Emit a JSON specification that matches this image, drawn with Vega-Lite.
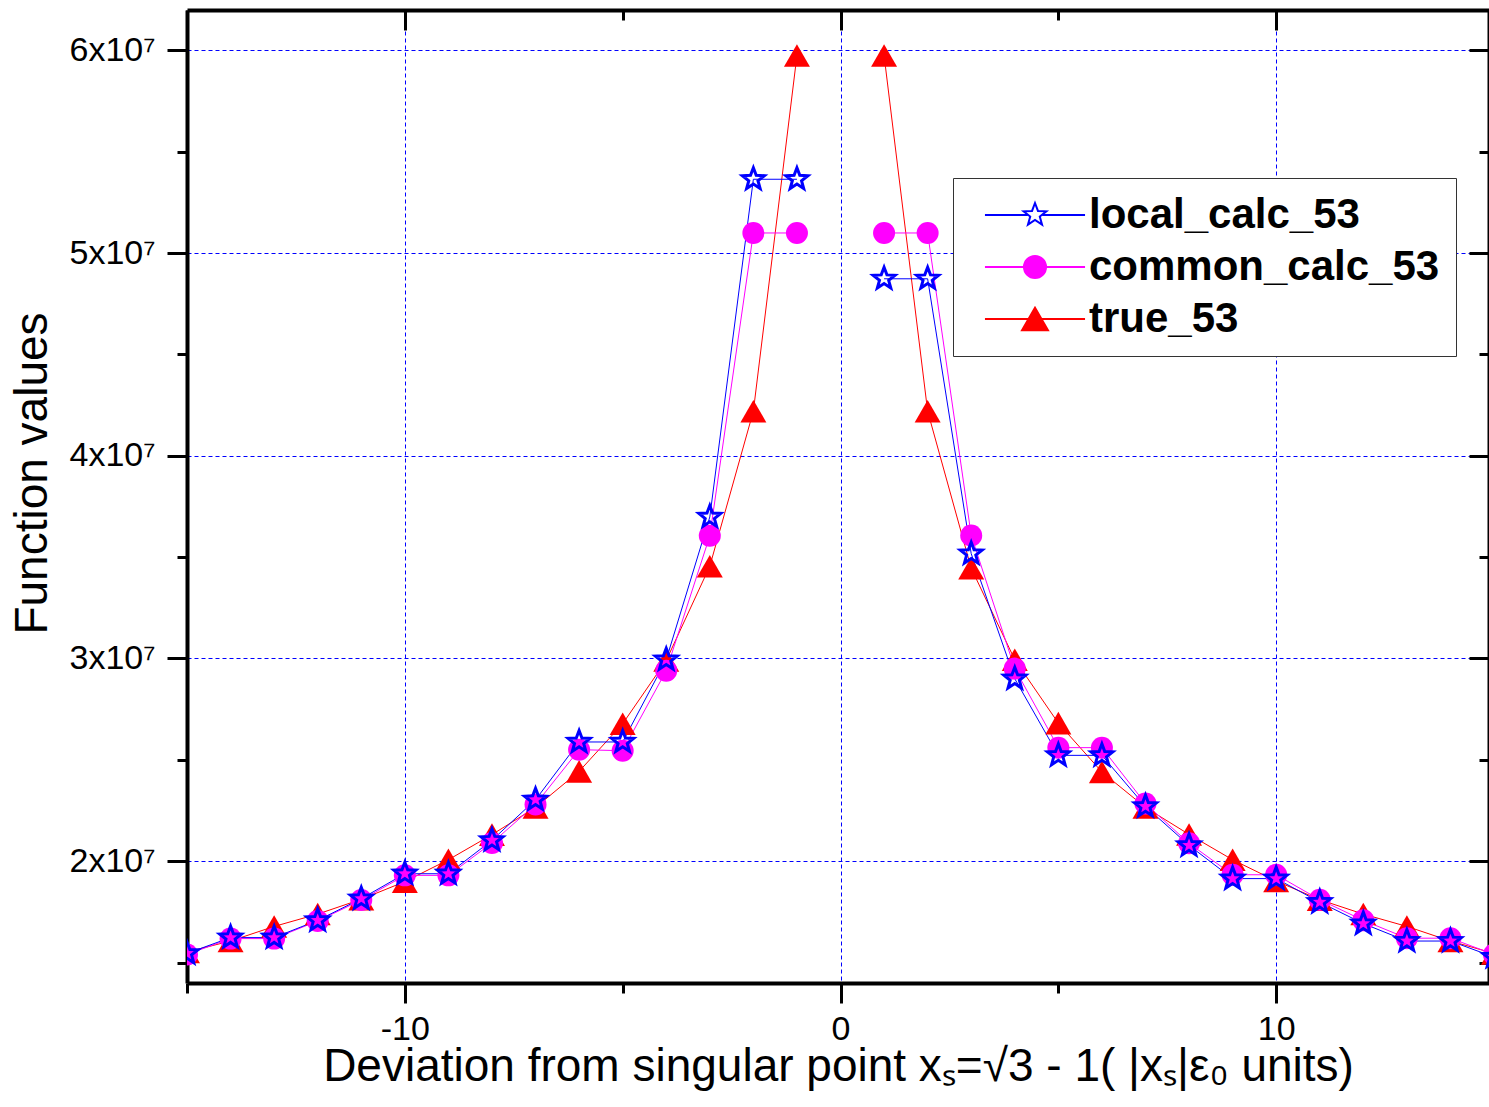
{
  "$schema": "https://vega.github.io/schema/vega-lite/v6.json",
  "width": 1302,
  "height": 973,
  "autosize": "none",
  "padding": {"left": 187, "top": 10, "right": 0, "bottom": 124},
  "background": "white",
  "config": {"view": {"stroke": null}, "font": "Liberation Sans"},
  "data": {"values": [
    {"s":"true_53","b":"L","x":-15,"y":15520000},{"s":"true_53","b":"L","x":-14,"y":16060000},{"s":"true_53","b":"L","x":-13,"y":16780000},{"s":"true_53","b":"L","x":-12,"y":17390000},{"s":"true_53","b":"L","x":-11,"y":18120000},{"s":"true_53","b":"L","x":-10,"y":18990000},{"s":"true_53","b":"L","x":-9,"y":20070000},{"s":"true_53","b":"L","x":-8,"y":21310000},{"s":"true_53","b":"L","x":-7,"y":22650000},{"s":"true_53","b":"L","x":-6,"y":24430000},{"s":"true_53","b":"L","x":-5,"y":26780000},{"s":"true_53","b":"L","x":-4,"y":29900000},{"s":"true_53","b":"L","x":-3,"y":34550000},{"s":"true_53","b":"L","x":-2,"y":42200000},{"s":"true_53","b":"L","x":-1,"y":59750000},
    {"s":"true_53","b":"R","x":1,"y":59750000},{"s":"true_53","b":"R","x":2,"y":42200000},{"s":"true_53","b":"R","x":3,"y":34450000},{"s":"true_53","b":"R","x":4,"y":29940000},{"s":"true_53","b":"R","x":5,"y":26810000},{"s":"true_53","b":"R","x":6,"y":24400000},{"s":"true_53","b":"R","x":7,"y":22650000},{"s":"true_53","b":"R","x":8,"y":21320000},{"s":"true_53","b":"R","x":9,"y":20070000},{"s":"true_53","b":"R","x":10,"y":19020000},{"s":"true_53","b":"R","x":11,"y":18100000},{"s":"true_53","b":"R","x":12,"y":17390000},{"s":"true_53","b":"R","x":13,"y":16780000},{"s":"true_53","b":"R","x":14,"y":16060000},{"s":"true_53","b":"R","x":15,"y":15450000},
    {"s":"common_calc_53","b":"L","x":-15,"y":15400000},{"s":"common_calc_53","b":"L","x":-14,"y":16180000},{"s":"common_calc_53","b":"L","x":-13,"y":16180000},{"s":"common_calc_53","b":"L","x":-12,"y":17050000},{"s":"common_calc_53","b":"L","x":-11,"y":18080000},{"s":"common_calc_53","b":"L","x":-10,"y":19300000},{"s":"common_calc_53","b":"L","x":-9,"y":19300000},{"s":"common_calc_53","b":"L","x":-8,"y":20900000},{"s":"common_calc_53","b":"L","x":-7,"y":22800000},{"s":"common_calc_53","b":"L","x":-6,"y":25500000},{"s":"common_calc_53","b":"L","x":-5,"y":25450000},{"s":"common_calc_53","b":"L","x":-4,"y":29400000},{"s":"common_calc_53","b":"L","x":-3,"y":36050000},{"s":"common_calc_53","b":"L","x":-2,"y":50990000},{"s":"common_calc_53","b":"L","x":-1,"y":50990000},
    {"s":"common_calc_53","b":"R","x":1,"y":50990000},{"s":"common_calc_53","b":"R","x":2,"y":50990000},{"s":"common_calc_53","b":"R","x":3,"y":36070000},{"s":"common_calc_53","b":"R","x":4,"y":29500000},{"s":"common_calc_53","b":"R","x":5,"y":25600000},{"s":"common_calc_53","b":"R","x":6,"y":25600000},{"s":"common_calc_53","b":"R","x":7,"y":22840000},{"s":"common_calc_53","b":"R","x":8,"y":20880000},{"s":"common_calc_53","b":"R","x":9,"y":19330000},{"s":"common_calc_53","b":"R","x":10,"y":19330000},{"s":"common_calc_53","b":"R","x":11,"y":18100000},{"s":"common_calc_53","b":"R","x":12,"y":17080000},{"s":"common_calc_53","b":"R","x":13,"y":16200000},{"s":"common_calc_53","b":"R","x":14,"y":16200000},{"s":"common_calc_53","b":"R","x":15,"y":15400000},
    {"s":"local_calc_53","b":"L","x":-15,"y":15450000},{"s":"local_calc_53","b":"L","x":-14,"y":16230000},{"s":"local_calc_53","b":"L","x":-13,"y":16230000},{"s":"local_calc_53","b":"L","x":-12,"y":17080000},{"s":"local_calc_53","b":"L","x":-11,"y":18150000},{"s":"local_calc_53","b":"L","x":-10,"y":19380000},{"s":"local_calc_53","b":"L","x":-9,"y":19380000},{"s":"local_calc_53","b":"L","x":-8,"y":21030000},{"s":"local_calc_53","b":"L","x":-7,"y":23030000},{"s":"local_calc_53","b":"L","x":-6,"y":25880000},{"s":"local_calc_53","b":"L","x":-5,"y":25880000},{"s":"local_calc_53","b":"L","x":-4,"y":29940000},{"s":"local_calc_53","b":"L","x":-3,"y":36980000},{"s":"local_calc_53","b":"L","x":-2,"y":53640000},{"s":"local_calc_53","b":"L","x":-1,"y":53640000},
    {"s":"local_calc_53","b":"R","x":1,"y":48730000},{"s":"local_calc_53","b":"R","x":2,"y":48730000},{"s":"local_calc_53","b":"R","x":3,"y":35170000},{"s":"local_calc_53","b":"R","x":4,"y":29000000},{"s":"local_calc_53","b":"R","x":5,"y":25220000},{"s":"local_calc_53","b":"R","x":6,"y":25220000},{"s":"local_calc_53","b":"R","x":7,"y":22700000},{"s":"local_calc_53","b":"R","x":8,"y":20780000},{"s":"local_calc_53","b":"R","x":9,"y":19140000},{"s":"local_calc_53","b":"R","x":10,"y":19140000},{"s":"local_calc_53","b":"R","x":11,"y":17980000},{"s":"local_calc_53","b":"R","x":12,"y":16920000},{"s":"local_calc_53","b":"R","x":13,"y":16060000},{"s":"local_calc_53","b":"R","x":14,"y":16060000},{"s":"local_calc_53","b":"R","x":15,"y":15270000}
  ]},
  "layer": [
    {
      "mark": {"type": "line", "strokeWidth": 1, "clip": true},
      "encoding": {
        "x": {"field": "x", "type": "quantitative",
          "scale": {"domain": [-15, 14.885], "nice": false, "zero": false},
          "axis": {
            "orient": "bottom", "values": [-15, -10, -5, 0, 5, 10],
            "labelExpr": "datum.value % 10 === 0 ? '' + datum.value : ''",
            "tickSize": {"condition": {"test": "datum.value % 10 === 0", "value": 20}, "value": 10},
            "tickWidth": 3, "tickColor": "black",
            "domainColor": "black", "domainWidth": 4,
            "grid": true, "gridColor": "#0000ff", "gridDash": [4, 3], "gridWidth": 1,
            "gridOpacity": {"condition": {"test": "datum.value % 10 === 0", "value": 1}, "value": 0},
            "labelFont": "Liberation Sans", "labelFontSize": 34, "labelColor": "black", "labelPadding": 9,
            "labelFlush": false, "labelOverlap": false,
            "title": "Deviation from singular point xₛ=√3 - 1( |xₛ|ε₀ units)",
            "titleFont": "Liberation Sans", "titleFontSize": 46, "titleFontWeight": "normal", "titleColor": "black", "titlePadding": -2
          }},
        "y": {"field": "y", "type": "quantitative",
          "scale": {"domain": [13990000, 61990000], "nice": false, "zero": false},
          "axis": {
            "orient": "left",
            "values": [15000000, 20000000, 25000000, 30000000, 35000000, 40000000, 45000000, 50000000, 55000000, 60000000],
            "labelExpr": "abs(datum.value/1e7 - round(datum.value/1e7)) < 0.001 ? round(datum.value/1e7) + 'x10⁷' : ''",
            "tickSize": {"condition": {"test": "abs(datum.value/1e7 - round(datum.value/1e7)) < 0.001", "value": 20}, "value": 10},
            "tickWidth": 3, "tickColor": "black",
            "domainColor": "black", "domainWidth": 4,
            "grid": true, "gridColor": "#0000ff", "gridDash": [4, 3], "gridWidth": 1,
            "gridOpacity": {"condition": {"test": "abs(datum.value/1e7 - round(datum.value/1e7)) < 0.001", "value": 1}, "value": 0},
            "labelFont": "Liberation Sans", "labelFontSize": 34, "labelColor": "black", "labelPadding": 12,
            "labelOverlap": false,
            "title": "Function values",
            "titleFont": "Liberation Sans", "titleFontSize": 46, "titleFontWeight": "normal", "titleColor": "black", "titlePadding": 12,
            "titleY": 463
          }},
        "detail": [{"field": "s"}, {"field": "b"}],
        "stroke": {"condition": [{"test": "datum.s === 'local_calc_53'", "value": "#0000ff"}, {"test": "datum.s === 'common_calc_53'", "value": "#ff00ff"}], "value": "#ff0000"}
      }
    },
    {
      "mark": {"type": "point", "filled": true, "opacity": 1, "clip": true},
      "encoding": {
        "x": {"field": "x", "type": "quantitative",
          "axis": {
            "orient": "top", "values": [-15, -10, -5, 0, 5, 10], "labels": false,
            "tickSize": {"condition": {"test": "datum.value % 10 === 0", "value": -20}, "value": -10},
            "tickWidth": 3, "tickColor": "black", "domainColor": "black", "domainWidth": 4,
            "grid": false, "title": null
          }},
        "y": {"field": "y", "type": "quantitative",
          "axis": {
            "orient": "right",
            "values": [15000000, 20000000, 25000000, 30000000, 35000000, 40000000, 45000000, 50000000, 55000000, 60000000],
            "labels": false,
            "tickSize": {"condition": {"test": "abs(datum.value/1e7 - round(datum.value/1e7)) < 0.001", "value": -20}, "value": -10},
            "tickWidth": 3, "tickColor": "black", "domainColor": "black", "domainWidth": 4,
            "grid": false, "title": null
          }},
        "shape": {"condition": [
          {"test": "datum.s === 'local_calc_53'", "value": "M0,-1L0.247,-0.34L0.951,-0.309L0.399,0.13L0.588,0.809L0,0.42L-0.588,0.809L-0.399,0.13L-0.951,-0.309L-0.247,-0.34Z"},
          {"test": "datum.s === 'common_calc_53'", "value": "circle"}],
          "value": "triangle-up"},
        "fill": {"condition": [{"test": "datum.s === 'local_calc_53'", "value": "transparent"}, {"test": "datum.s === 'common_calc_53'", "value": "#ff00ff"}], "value": "#ff0000"},
        "stroke": {"condition": [{"test": "datum.s === 'local_calc_53'", "value": "#0000ff"}, {"test": "datum.s === 'common_calc_53'", "value": "#ff00ff"}], "value": "#ff0000"},
        "strokeWidth": {"condition": {"test": "datum.s === 'local_calc_53'", "value": 3}, "value": 0},
        "size": {"condition": [{"test": "datum.s === 'true_53'", "value": 676}, {"test": "datum.s === 'local_calc_53'", "value": 529}], "value": 484}
      }
    },
    {
      "transform": [{"filter": "datum.x > 100"}],
      "mark": {"type": "point", "filled": true},
      "encoding": {
        "shape": {"field": "s", "type": "nominal",
          "scale": {"domain": ["local_calc_53", "common_calc_53", "true_53"],
            "range": [
              "M-4.17,0H-0.62M0.62,0H4.17M0,-1L0.247,-0.34L0.951,-0.309L0.399,0.13L0.588,0.809L0,0.42L-0.588,0.809L-0.399,0.13L-0.951,-0.309L-0.247,-0.34Z",
              "M-4.17,0H4.17M-0.92,0A0.92,0.92,0,1,1,0.92,0A0.92,0.92,0,1,1,-0.92,0Z",
              "M-4.17,0H4.17M0,-0.94L1.08,0.94L-1.08,0.94Z"]},
          "legend": {
            "orient": "none", "legendX": 766, "legendY": 168,
            "title": null, "padding": 16,
            "strokeColor": "#333333", "fillColor": "white",
            "symbolSize": 576, "symbolStrokeWidth": 2, "symbolOpacity": 1,
            "symbolOffset": 45, "labelOffset": 33,
            "labelFont": "Liberation Sans", "labelFontSize": 42, "labelFontWeight": "bold", "labelColor": "black", "labelLimit": 600,
            "rowPadding": 10
          }},
        "fill": {"field": "s", "type": "nominal",
          "scale": {"domain": ["local_calc_53", "common_calc_53", "true_53"], "range": ["transparent", "#ff00ff", "#ff0000"]}},
        "stroke": {"field": "s", "type": "nominal",
          "scale": {"domain": ["local_calc_53", "common_calc_53", "true_53"], "range": ["#0000ff", "#ff00ff", "#ff0000"]}}
      }
    }
  ]
}
